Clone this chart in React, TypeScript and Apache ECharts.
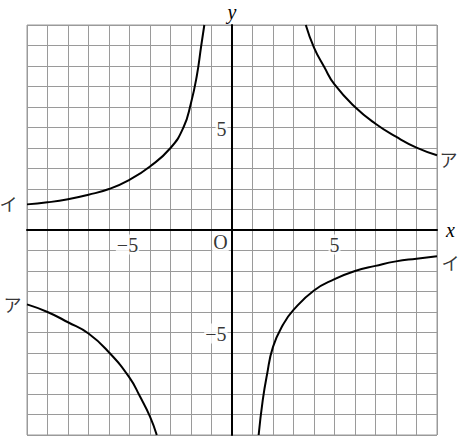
import { useEffect, useRef } from 'react'
import * as echarts from 'echarts'

// curve ア: upper right branch and lower left branch
const aRightX = [3.6, 4, 4.5, 5, 6, 7, 8, 9, 10]
const aRightY = [10, 8.9, 7.95, 7.1, 6.0, 5.18, 4.55, 4.02, 3.65]
const aLeftX = [-3.67, -4, -4.5, -5, -6, -7, -8, -9, -10]
const aLeftY = [-10, -9.1, -8.1, -7.2, -5.97, -5.05, -4.5, -4.0, -3.63]

// curve イ: upper left branch and lower right branch
const iLeftX = [-1.35, -1.5, -1.72, -2, -2.37, -3, -4, -5, -6, -7, -8, -9, -10]
const iLeftY = [10, 9, 7.5, 6.2, 5, 4, 3.1, 2.45, 2.0, 1.72, 1.5, 1.35, 1.25]
const iRightX = [1.3, 1.5, 1.7, 2, 2.5, 3, 4, 5, 6, 7, 8, 9, 10]
const iRightY = [-10, -8.3, -7.1, -5.7, -4.6, -3.9, -2.95, -2.4, -2.0, -1.75, -1.53, -1.4, -1.28]

const xTicks = [-5, 5]
const yTicks = [-5, 5]
const tickText = (v: number) => (v < 0 ? '−' + Math.abs(v) : String(v))

const SERIF = '"Liberation Serif", "DejaVu Serif", serif'
const KANA = '"Noto Sans CJK JP", sans-serif'

const pairs = (xs: number[], ys: number[]) => xs.map((x, i) => [x, ys[i]])
const last = (a: number[]) => a[a.length - 1]

function curve(xs: number[], ys: number[]) {
  return {
    type: 'line',
    data: pairs(xs, ys),
    smooth: 0.5,
    symbol: 'none',
    lineStyle: { color: '#000', width: 2 },
    z: 5,
  }
}

// invisible points that only carry a text label
function textPoint(x: number, y: number, text: string, label: any) {
  return {
    value: [x, y],
    label: { show: true, formatter: text, ...label },
  }
}

export default function App() {
  const ref = useRef<HTMLDivElement>(null)

  useEffect(() => {
    if (!ref.current) return
    const chart = echarts.init(ref.current, undefined, { renderer: 'svg' })
    const axisCommon = {
      type: 'value',
      min: -10,
      max: 10,
      interval: 1,
      axisLine: { onZero: true, lineStyle: { color: '#000', width: 2 } },
      axisTick: { show: false },
      axisLabel: { show: false },
      splitLine: { show: true, lineStyle: { color: '#9a9a9a', width: 1 } },
      nameLocation: 'end',
      nameTextStyle: { fontFamily: SERIF, fontStyle: 'italic', fontSize: 20, color: '#000', lineHeight: 20 },
    }
    // tick labels sit on a white patch that hides the grid behind them
    const digit = { color: '#000', fontSize: 20, fontFamily: SERIF, backgroundColor: '#fff', padding: [0, 1] }
    const kana = { color: '#000', fontSize: 18, fontFamily: KANA }
    chart.setOption({
      animation: false,
      backgroundColor: '#fff',
      grid: {
        left: 27, top: 25, width: 410, height: 410,
        outerBoundsMode: 'none', containLabel: false,
        show: true, borderColor: '#9a9a9a', borderWidth: 1,
      },
      xAxis: { ...axisCommon, name: 'x', nameGap: 9 },
      yAxis: { ...axisCommon, name: 'y', nameGap: 3 },
      series: [
        curve(aRightX, aRightY),
        curve(aLeftX, aLeftY),
        curve(iLeftX, iLeftY),
        curve(iRightX, iRightY),
        {
          type: 'scatter',
          symbolSize: 1,
          itemStyle: { color: 'rgba(0,0,0,0)' },
          silent: true,
          z: 10,
          data: [
            ...xTicks.map((v) => textPoint(v, 0, tickText(v), { ...digit, position: 'bottom', distance: 4, offset: [v < 0 ? -2 : 0, 0] })),
            ...yTicks.map((v) => textPoint(0, v, tickText(v), { ...digit, position: 'left', distance: 4, offset: [0, 1] })),
            textPoint(0, 0, 'O', { ...digit, position: 'inside', offset: [-11.5, 11.5] }),
            textPoint(last(aRightX), last(aRightY), 'ア', { ...kana, position: 'right', distance: 2, offset: [0, 4] }),
            textPoint(last(aLeftX), last(aLeftY), 'ア', { ...kana, position: 'left', distance: 5, offset: [0, 0] }),
            textPoint(last(iLeftX), last(iLeftY), 'イ', { ...kana, position: 'left', distance: 9, offset: [0, -1] }),
            textPoint(last(iRightX), last(iRightY), 'イ', { ...kana, position: 'right', distance: 4, offset: [0, 6] }),
          ],
        },
      ],
    })
    return () => chart.dispose()
  }, [])

  return <div ref={ref} style={{ position: 'fixed', left: 0, top: 0, width: 462, height: 438 }} />
}
